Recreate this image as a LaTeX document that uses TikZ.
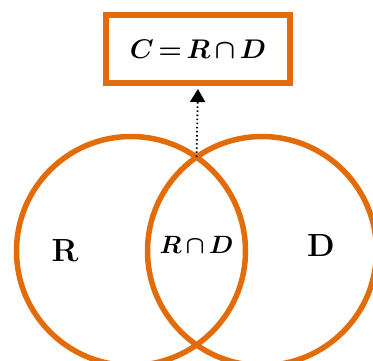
\documentclass[tikz,border=0pt]{standalone}
\usepackage{fix-cm}
\usepackage{amsmath,bm}
\usetikzlibrary{positioning, arrows.meta, calc}
\definecolor{vennorange}{RGB}{227,108,10}

\begin{document}
\begin{tikzpicture}[x=1pt, y=1pt, node distance=131pt,
    set/.style={draw=vennorange, line width=5.5pt, circle, minimum size=229pt, inner sep=0pt},
    result/.style={draw=vennorange, line width=6pt, minimum width=184pt, minimum height=68pt, inner sep=0pt},
    big/.style={font=\fontsize{32}{36}\selectfont},
    mid/.style={font=\fontsize{27}{32}\selectfont}]

    \clip (0,0) rectangle (373,-360);

    % the two sets
    \node[set] (R) at (131,-251) {};
    \node[set, right of=R] (D) {};

    % labels inside the sets
    \node[big] (Rname) at ($(R)+(-66,0)$) {\textbf{R}};
    \node[big] (Dname) at ($(D)+(59,5)$) {\textbf{D}};
    \node[mid, font=\fontsize{25}{30}\selectfont] (RD) at ($(R)!0.5!(D)+(0,6)$) {$\bm{R\,{\cap}\,D}$};

    % the result box and the dotted pointer from the crossing point
    \node[result, mid] (C) at (198,-49) {$\bm{C\,{=}\,R\,{\cap}\,D}$};
    \coordinate (cross) at ($(R)!0.5!(D)+(0,94)$);
    \draw[line width=1.8pt, dash pattern=on 1.5pt off 2.6pt, -{Triangle[width=15pt,length=13pt]}, shorten >=3pt]
        (cross) -- (C.south);
\end{tikzpicture}
\end{document}
